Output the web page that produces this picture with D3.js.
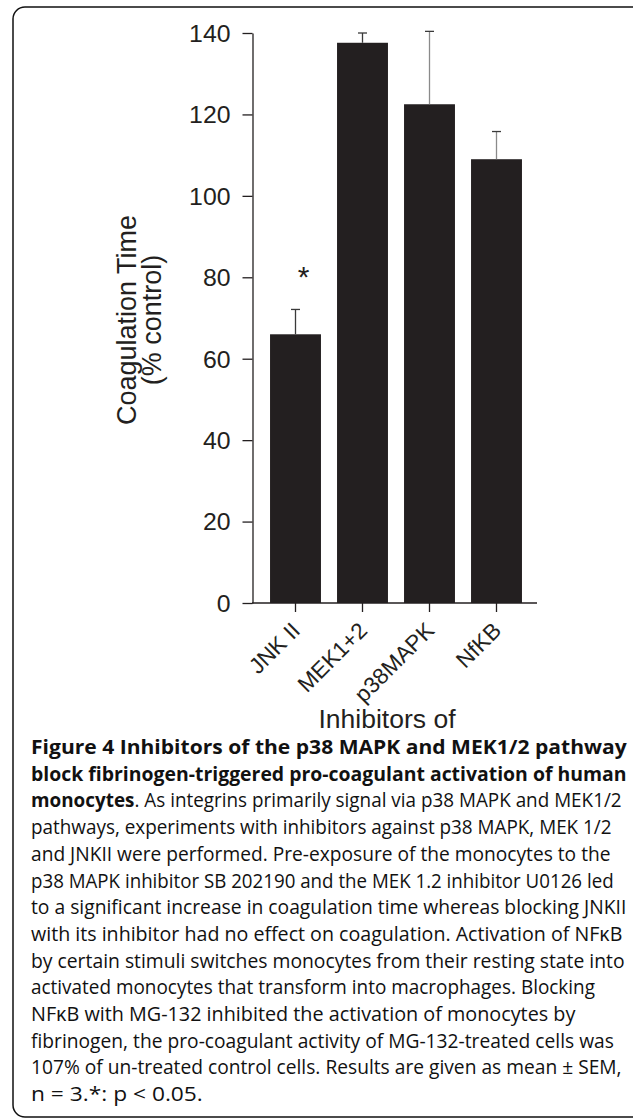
<!DOCTYPE html>
<html><head><meta charset="utf-8">
<script src="https://cdn.jsdelivr.net/npm/d3@7"></script>
<style>
html,body{margin:0;padding:0;background:#fff;}
svg{display:block;}
</style></head>
<body>
<script>
const categories = ["JNK II", "MEK1+2", "p38MAPK", "NfKB"];
const means = [66.0, 137.6, 122.5, 109.0];
const sem = [6.1, 2.4, 17.9, 6.8];
const significant = [true, false, false, false];
const yTicks = [0, 20, 40, 60, 80, 100, 120, 140];
const yTitle = ["Coagulation Time", "(% control)"];
const xTitle = "Inhibitors of";
const captionLines = [
  [["b","Figure 4 Inhibitors of the p38 MAPK and MEK1/2 pathway"]],
  [["b","block fibrinogen-triggered pro-coagulant activation of human"]],
  [["b","monocytes"],["n",". As integrins primarily signal via p38 MAPK and MEK1/2"]],
  [["n","pathways, experiments with inhibitors against p38 MAPK, MEK 1/2"]],
  [["n","and JNKII were performed. Pre-exposure of the monocytes to the"]],
  [["n","p38 MAPK inhibitor SB 202190 and the MEK 1.2 inhibitor U0126 led"]],
  [["n","to a significant increase in coagulation time whereas blocking JNKII"]],
  [["n","with its inhibitor had no effect on coagulation. Activation of NF\u03BAB"]],
  [["n","by certain stimuli switches monocytes from their resting state into"]],
  [["n","activated monocytes that transform into macrophages. Blocking"]],
  [["n","NF\u03BAB with MG-132 inhibited the activation of monocytes by"]],
  [["n","fibrinogen, the pro-coagulant activity of MG-132-treated cells was"]],
  [["n","107% of un-treated control cells. Results are given as mean \u00B1 SEM,"]],
  [["n","n = 3.*: p < 0.05."]]
];
// layout: right end (px) of each caption line as set in the reference
const captionLineEnds = [627, 627, 622, 612, 611, 614, 627, 623, 625, 595, 576, 614, 622, 203];

const W = 633, H = 1120;
const ink = "#231f20";
const svg = d3.select("body").append("svg").attr("width", W).attr("height", H);

// border
svg.append("rect").attr("x", 13).attr("y", 7).attr("width", 640).attr("height", 1110)
  .attr("rx", 12).attr("fill", "none").attr("stroke", "#111").attr("stroke-width", 1.5);

const y = d3.scaleLinear().domain([0, 140]).range([603, 33]);
const x = d3.scaleBand().domain(categories).range([262, 530]).paddingInner(0.24).paddingOuter(0.12);
const font = "Liberation Sans, Arial, Helvetica, sans-serif";

// bars
svg.append("g").selectAll("rect").data(categories).join("rect")
  .attr("x", d => x(d)).attr("width", x.bandwidth())
  .attr("y", (d, i) => y(means[i])).attr("height", (d, i) => y(0) - y(means[i]))
  .attr("fill", ink);

// error bars (upper whisker)
const eg = svg.append("g");
categories.forEach((c, i) => {
  const cx = x(c) + x.bandwidth() / 2;
  const col = i < 2 ? "#3a3a3a" : "#8a8a8a";
  eg.append("line").attr("x1", cx).attr("x2", cx).attr("y1", y(means[i])).attr("y2", y(means[i] + sem[i]))
    .attr("stroke", col).attr("stroke-width", 1.3);
  eg.append("line").attr("x1", cx - 4.5).attr("x2", cx + 4.5).attr("y1", y(means[i] + sem[i])).attr("y2", y(means[i] + sem[i]))
    .attr("stroke", "#3a3a3a").attr("stroke-width", 1.3);
  if (significant[i]) {
    eg.append("text").attr("x", cx + 8).attr("y", y(means[i] + sem[i]) - 22)
      .attr("text-anchor", "middle").attr("font-family", font).attr("font-size", 30)
      .attr("fill", ink).text("*");
  }
});

// y axis
const yAxis = svg.append("g").attr("transform", "translate(252.5,0)")
  .call(d3.axisLeft(y).tickValues(yTicks).tickSize(10).tickPadding(12).tickSizeOuter(0));
yAxis.select(".domain").attr("stroke", ink).attr("stroke-width", 1.3);
yAxis.selectAll(".tick line").attr("stroke", ink).attr("stroke-width", 1.3);
yAxis.selectAll(".tick text").attr("font-family", font).attr("font-size", 23).attr("fill", ink)
  .attr("transform", "scale(1.08,1)").attr("dy", "0.36em")
  .attr("x", -22 / 1.08);

// x axis
const xAxis = svg.append("g").attr("transform", "translate(0,603)");
xAxis.append("line").attr("x1", 252).attr("x2", 537).attr("y1", 0).attr("y2", 0)
  .attr("stroke", ink).attr("stroke-width", 1.3);
xAxis.selectAll("line.tk").data(categories).join("line").attr("class", "tk")
  .attr("x1", d => x(d) + x.bandwidth() / 2).attr("x2", d => x(d) + x.bandwidth() / 2)
  .attr("y1", 0).attr("y2", 9).attr("stroke", ink).attr("stroke-width", 1.3);
xAxis.selectAll("text").data(categories).join("text")
  .attr("transform", d => `translate(${x(d) + x.bandwidth() / 2 + 6},${29}) rotate(-45)`)
  .attr("text-anchor", "end").attr("font-family", font).attr("font-size", 22.5).attr("fill", ink)
  .text(d => d);

// axis titles
yTitle.forEach((t, k) => {
  svg.append("text").attr("transform", `translate(${136 + k * 25},${320}) rotate(-90)`)
    .attr("text-anchor", "middle").attr("font-family", font).attr("font-size", 27).attr("fill", ink).text(t);
});
svg.append("text").attr("x", 387).attr("y", 728).attr("text-anchor", "middle")
  .attr("font-family", font).attr("font-size", 26.5).attr("fill", ink).text(xTitle);

// caption
const capX = 31;
const cap = svg.append("g");
captionLines.forEach((runs, i) => {
  const g = cap.append("g");
  const t = g.append("text").attr("x", 0).attr("y", 0)
    .attr("font-family", "Open Sans, sans-serif").attr("font-size", 20).attr("fill", "#111");
  runs.forEach(r => t.append("tspan").attr("font-weight", r[0] === "b" ? 700 : 400).text(r[1]));
  const w = t.node().getComputedTextLength();
  const s = (captionLineEnds[i] - capX) / w;
  g.attr("transform", `translate(${capX},${754 + i * 26.7}) scale(${s},1)`);
});
</script>
</body></html>
